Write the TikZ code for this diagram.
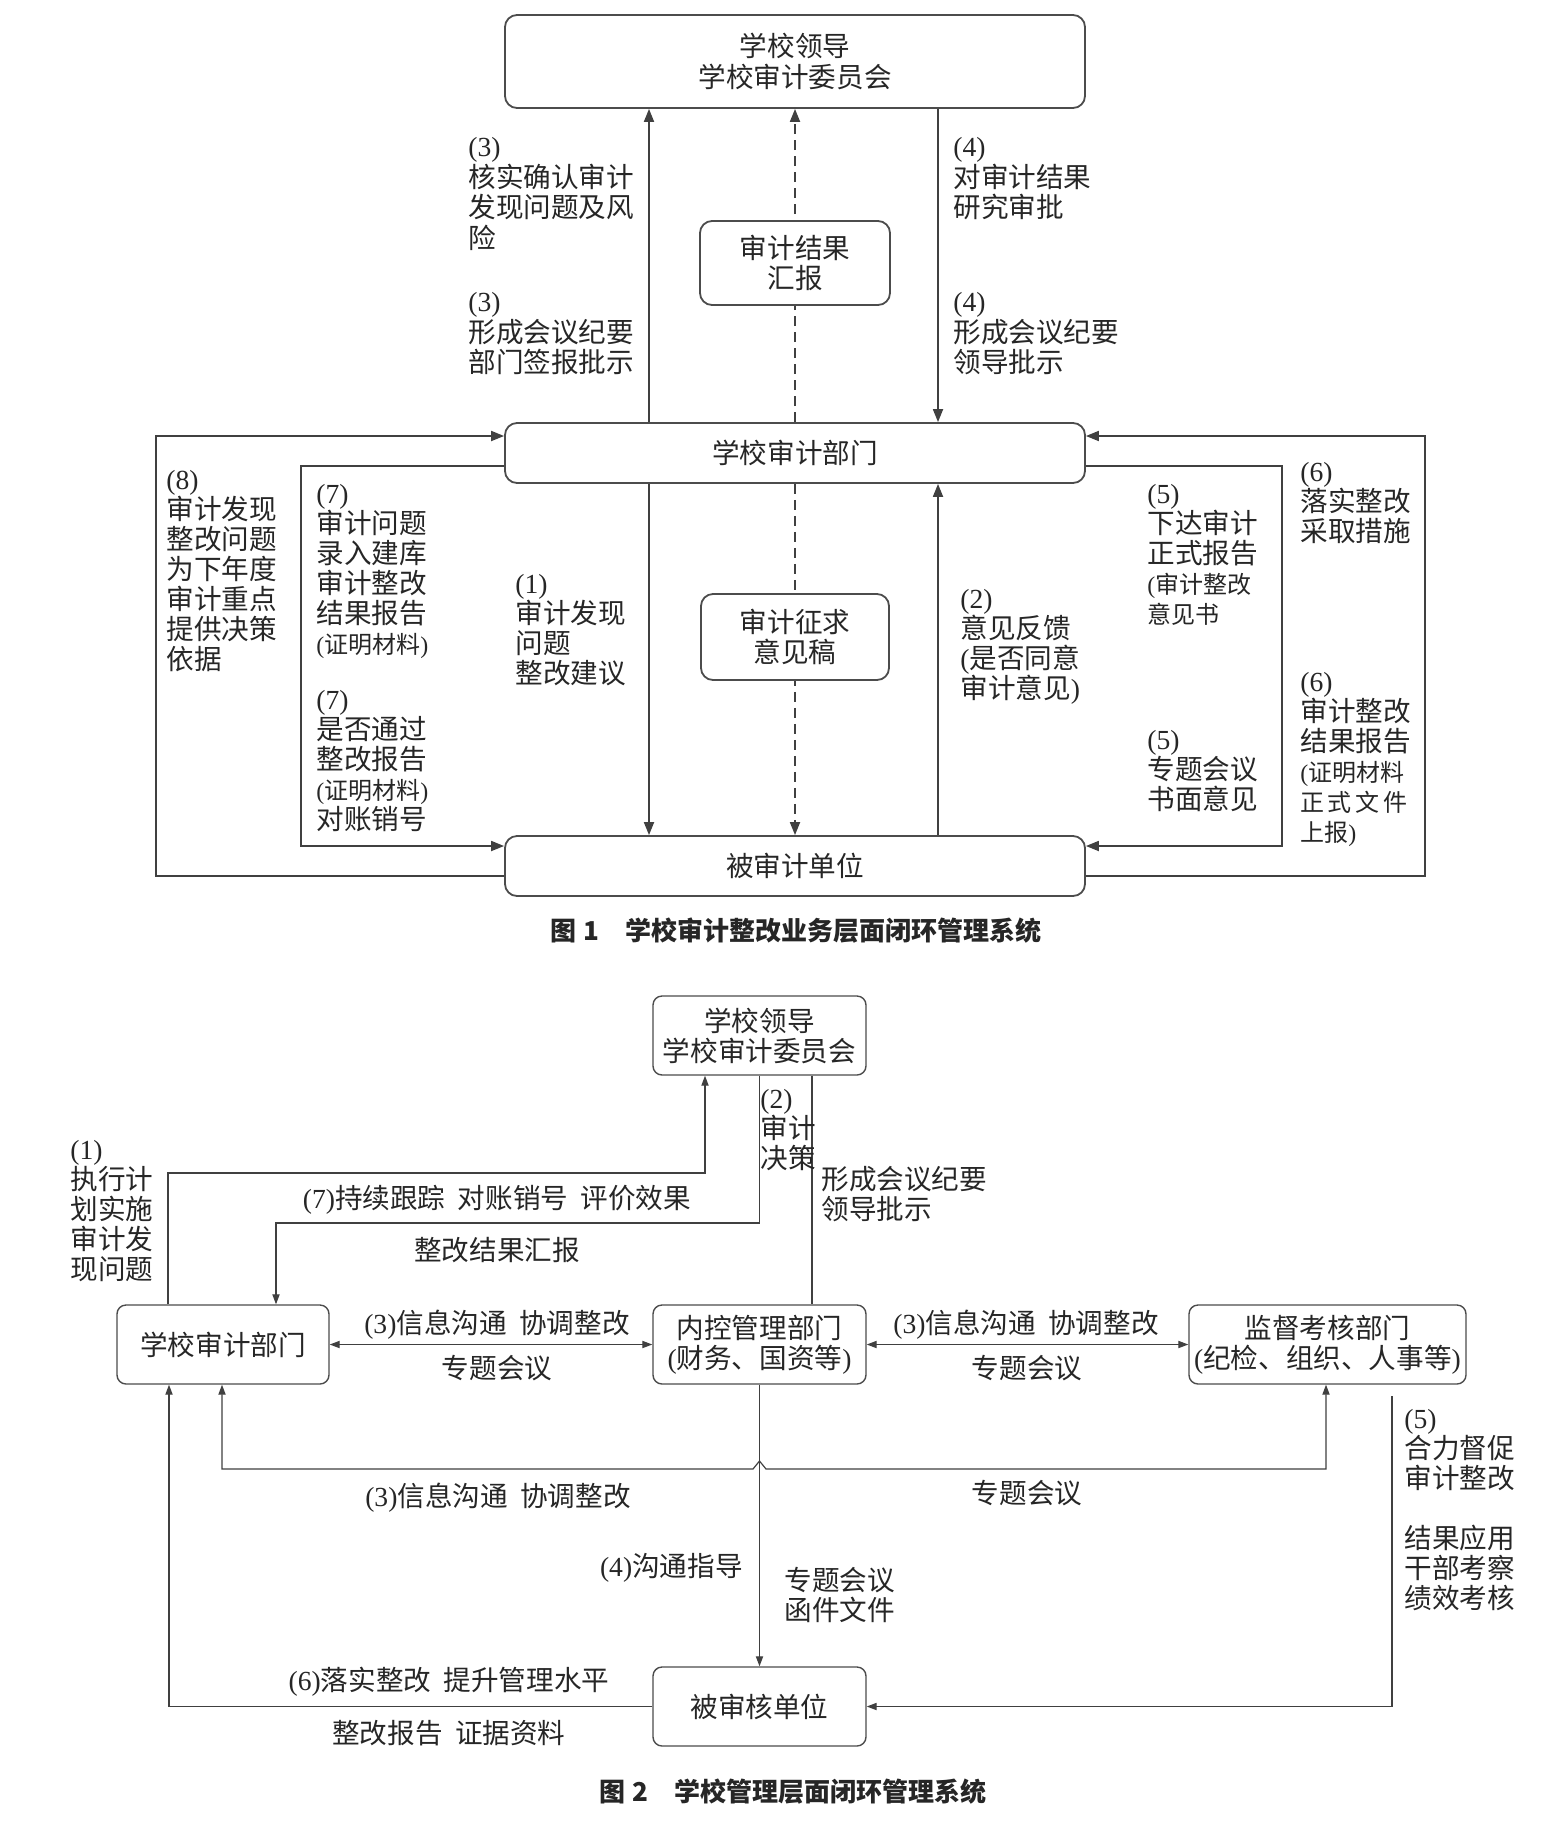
\documentclass[tikz,border=0pt]{standalone}
\usepackage{fontspec}
\setmainfont{Noto Sans CJK SC}
\newfontfamily\lat{Liberation Serif}
\usetikzlibrary{arrows.meta}
\newcommand\pn[1]{{\lat(#1)}}
\newcommand\mylp{{\lat(}}
\newcommand\myrp{{\lat)}}
\newcommand\lf{\fontsize{13.8pt}{15.3pt}\selectfont}
\newcommand\lftwo{\fontsize{13.8pt}{15pt}\selectfont}
\newcommand\smf{\fontsize{12pt}{15pt}\selectfont}
\newcommand\capf{\fontsize{13pt}{15pt}\selectfont\bfseries}
\newcommand\gap{\hspace{0.45em}}
\begin{document}
\begin{tikzpicture}[x=0.5pt,y=-0.5pt,
  every node/.style={text=black!85},
  bx/.style={draw=black!70, line width=0.9pt, rounded corners=6pt, fill=white, inner sep=0pt, align=center, font=\lf},
  bxb/.style={draw=black!70, line width=0.7pt, rounded corners=4.5pt, fill=white, inner sep=0pt, align=center, font=\lftwo},
  ln/.style={draw=black!75, line width=0.9pt},
  arr/.style={ln, -{Triangle[length=6.5pt,width=5pt]}},
  dsh/.style={dash pattern=on 5pt off 3pt},
  lnb/.style={draw=black!75, line width=0.6pt},
  arrb/.style={lnb, -{Triangle[length=5pt,width=3.6pt]}},
  darrb/.style={lnb, {Triangle[length=5pt,width=3.6pt]}-{Triangle[length=5pt,width=3.6pt]}},
  lab/.style={anchor=north west, inner sep=0pt, align=left, font=\lf},
  labb/.style={anchor=north west, inner sep=0pt, align=left, font=\lftwo},
  clab/.style={inner sep=0pt, font=\lftwo},
]
\useasboundingbox[fill=white] (0,0) rectangle (1558,1821);

% ================= Figure 1 =================
\node[bx, minimum width=290pt, minimum height=46.5pt] (L1) at (795,61.5) {学校领导\\学校审计委员会};
\node[bx, minimum width=290pt, minimum height=30pt] (A1) at (795,453) {学校审计部门};
\node[bx, minimum width=290pt, minimum height=30pt] (B1) at (795,866) {被审计单位};

\coordinate (xa) at (649,0);
\coordinate (xm) at (795,0);
\coordinate (xb) at (938,0);
\coordinate (p1) at (301,466);
\coordinate (p2) at (301,846);
\coordinate (p3) at (156,876);
\coordinate (p4) at (156,436);
\coordinate (p5) at (1282,466);
\coordinate (p6) at (1282,846);
\coordinate (p7) at (1425,876);
\coordinate (p8) at (1425,436);

\draw[arr] (A1.north -| xa) -- (L1.south -| xa);
\draw[arr,dsh] (A1.north -| xm) -- (L1.south -| xm);
\draw[arr] (L1.south -| xb) -- (A1.north -| xb);
\draw[arr] (A1.south -| xa) -- (B1.north -| xa);
\draw[arr,dsh] (A1.south -| xm) -- (B1.north -| xm);
\draw[arr] (B1.north -| xb) -- (A1.south -| xb);

\draw[arr] (A1.west |- p1) -- (p1) -- (p2) -- (B1.west |- p2);
\draw[arr] (B1.west |- p3) -- (p3) -- (p4) -- (A1.west |- p4);
\draw[arr] (A1.east |- p5) -- (p5) -- (p6) -- (B1.east |- p6);
\draw[arr] (B1.east |- p7) -- (p7) -- (p8) -- (A1.east |- p8);

\node[bx, minimum width=95pt, minimum height=42pt] (R1) at (795,263) {审计结果\\汇报};
\node[bx, minimum width=94pt, minimum height=43pt] (S1) at (795,637) {审计征求\\意见稿};

\node[lab] (t3a) at (468,137) {\pn{3}\\核实确认审计\\发现问题及风\\险};
\node[lab] (t3b) at (468,292) {\pn{3}\\形成会议纪要\\部门签报批示};
\node[lab] (t4a) at (953,137) {\pn{4}\\对审计结果\\研究审批};
\node[lab] (t4b) at (953,292) {\pn{4}\\形成会议纪要\\领导批示};
\node[labb] (t8) at (166,470) {\pn{8}\\审计发现\\整改问题\\为下年度\\审计重点\\提供决策\\依据};
\node[labb] (t7a) at (316,484) {\pn{7}\\审计问题\\录入建库\\审计整改\\结果报告\\{\smf\mylp 证明材料\myrp}};
\node[labb] (t7b) at (316,690) {\pn{7}\\是否通过\\整改报告\\{\smf\mylp 证明材料\myrp}\\对账销号};
\node[labb] (t1) at (515,574) {\pn{1}\\审计发现\\问题\\整改建议};
\node[labb] (t2) at (960,589) {\pn{2}\\意见反馈\\\mylp 是否同意\\审计意见\myrp};
\node[labb] (t5a) at (1147,484) {\pn{5}\\下达审计\\正式报告\\{\smf\mylp 审计整改}\\{\smf 意见书}};
\node[labb] (t5b) at (1147,730) {\pn{5}\\专题会议\\书面意见};
\node[labb] (t6a) at (1300,462) {\pn{6}\\落实整改\\采取措施};
\node[labb] (t6b) at (1300,672) {\pn{6}\\审计整改\\结果报告\\{\smf\mylp 证明材料}\\{\smf 正\hspace{0.15em}式\hspace{0.15em}文\hspace{0.15em}件}\\{\smf 上报\myrp}};

\node[inner sep=0pt, font=\capf] (cap1) at (796,931) {图\hspace{0.3em}1\hspace{1em}学校审计整改业务层面闭环管理系统};

% ================= Figure 2 =================
\node[bxb, minimum width=106.5pt, minimum height=39.5pt] (L2) at (759.5,1035.5) {学校领导\\学校审计委员会};
\node[bxb, minimum width=106pt, minimum height=39.5pt] (A2) at (223,1344.5) {学校审计部门};
\node[bxb, minimum width=106.5pt, minimum height=39.5pt] (N2) at (759.5,1344.5) {内控管理部门\\\mylp 财务、国资等\myrp};
\node[bxb, minimum width=138.5pt, minimum height=39.5pt] (M2) at (1327.5,1344.5) {监督考核部门\\\mylp 纪检、组织、人事等\myrp};
\node[bxb, minimum width=106.5pt, minimum height=39.5pt] (B2) at (759.5,1706.5) {被审核单位};

\coordinate (q1) at (168,1173);
\coordinate (q2) at (705,1173);
\coordinate (q3) at (759.5,1223);
\coordinate (q4) at (276,1223);
\coordinate (q5) at (812,0);
\coordinate (q6) at (222,1469);
\coordinate (q7) at (1326,1469);
\coordinate (h1) at (753,1469);
\coordinate (h2) at (759.5,1461);
\coordinate (h3) at (766,1469);
\coordinate (q8) at (169,0);
\coordinate (q9) at (1392,1396);

\draw[arrb] (A2.north -| q1) -- (q1) -- (q2) -- (L2.south -| q2);
\draw[arrb] (L2.south -| q3) -- (q3) -- (q4) -- (A2.north -| q4);
\draw[lnb] (L2.south -| q5) -- (N2.north -| q5);
\draw[darrb] (A2.east) -- (N2.west);
\draw[darrb] (N2.east) -- (M2.west);
\draw[darrb] (A2.south -| q6) -- (q6) -- (h1) -- (h2) -- (h3) -- (q7) -- (M2.south -| q7);
\draw[arrb] (N2.south) -- (B2.north);
\draw[arrb] (B2.west) -- (q8 |- B2.west) -- (A2.south -| q8);
\draw[arrb] (q9) -- (q9 |- B2.east) -- (B2.east);

\node[labb] (u1) at (70,1140) {\pn{1}\\执行计\\划实施\\审计发\\现问题};
\node[labb] (u2) at (760,1089) {\pn{2}\\审计\\决策};
\node[labb] (u3) at (821,1166) {形成会议纪要\\领导批示};
\node[clab] (u4) at (497,1200) {\pn{7}持续跟踪\gap 对账销号\gap 评价效果};
\node[clab] (u5) at (497,1250) {整改结果汇报};
\node[clab] (u6) at (497,1325) {\pn{3}信息沟通\gap 协调整改};
\node[clab] (u7) at (497,1368) {专题会议};
\node[clab] (u8) at (1026,1325) {\pn{3}信息沟通\gap 协调整改};
\node[clab] (u9) at (1027,1368) {专题会议};
\node[clab] (u10) at (498,1498) {\pn{3}信息沟通\gap 协调整改};
\node[clab] (u11) at (1027,1493) {专题会议};
\node[clab, anchor=east] (u12) at (743,1568) {\pn{4}沟通指导};
\node[labb] (u13) at (784,1567) {专题会议\\函件文件};
\node[clab] (u14) at (449,1682) {\pn{6}落实整改\gap 提升管理水平};
\node[clab] (u15) at (449,1733) {整改报告\gap 证据资料};
\node[labb] (u16) at (1404,1409) {\pn{5}\\合力督促\\审计整改\\[15pt]结果应用\\干部考察\\绩效考核};

\node[inner sep=0pt, font=\capf] (cap2) at (793,1792) {图\hspace{0.3em}2\hspace{1em}学校管理层面闭环管理系统};
\end{tikzpicture}
\end{document}
